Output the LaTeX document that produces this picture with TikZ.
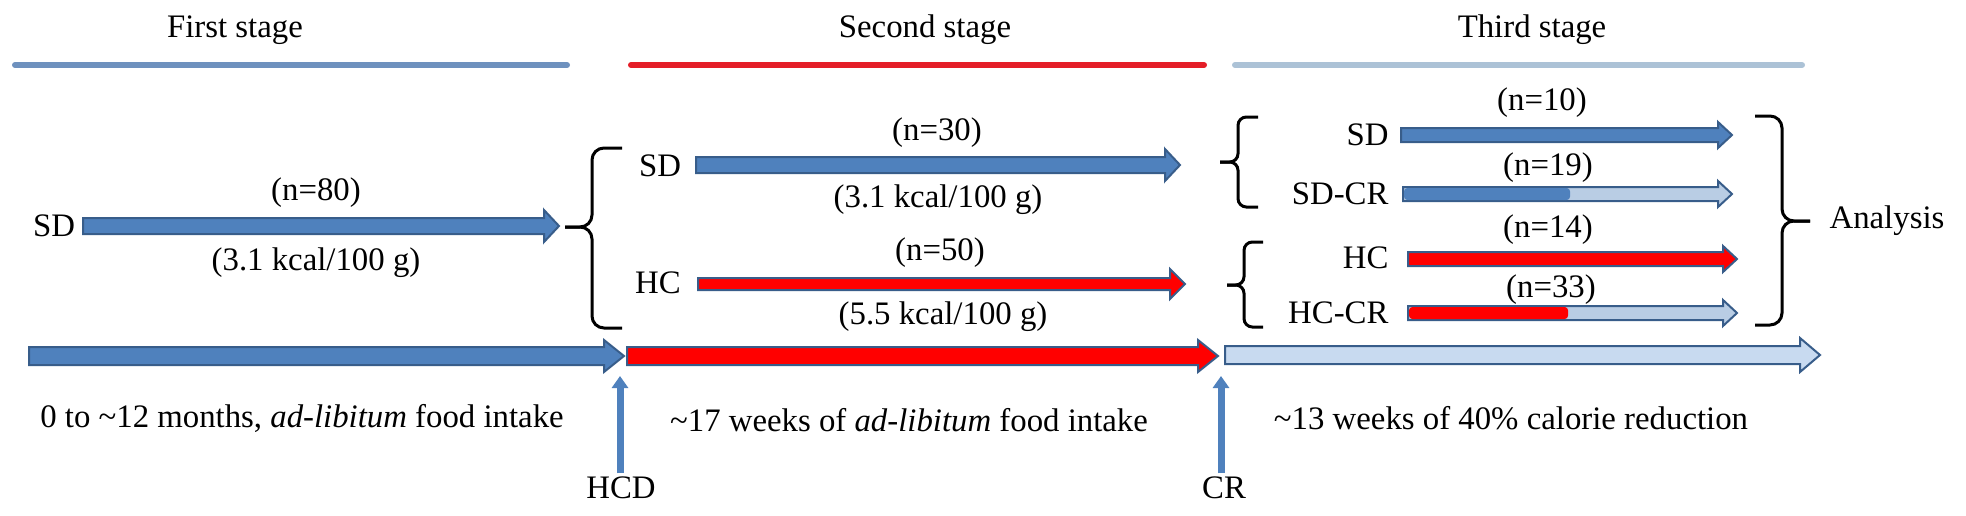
\documentclass[tikz,border=0pt]{standalone}
\usepackage{fontspec}
\setmainfont{Liberation Serif}
\usepackage{tikz}
\usetikzlibrary{arrows.meta}

\definecolor{sdblue}{RGB}{79,129,189}
\definecolor{edgeblue}{RGB}{56,93,138}
\definecolor{lightfill}{RGB}{200,218,240}
\definecolor{crfill}{RGB}{185,205,228}
\definecolor{stageone}{RGB}{110,145,190}
\definecolor{stagetwo}{RGB}{228,30,40}
\definecolor{stagethree}{RGB}{172,194,214}

% block arrow: start x, tip x, y, shaft half, head half, head length, fill
\newcommand{\blockarrow}[7]{%
  \filldraw[barrow, fill=#7] (#1,#3-#4) -- (#2-#6,#3-#4) -- (#2-#6,#3-#5) -- (#2,#3)
    -- (#2-#6,#3+#5) -- (#2-#6,#3+#4) -- (#1,#3+#4) -- cycle;}
% brace: end x, spine x, tip x, top y, tip y, bottom y, corner radius
\newcommand{\grpbrace}[7]{%
  \draw[brc, rounded corners=#7] (#1,#4) -- (#2,#4) -- (#2,#5) -- (#3,#5);
  \draw[brc, rounded corners=#7] (#1,#6) -- (#2,#6) -- (#2,#5) -- (#3,#5);}

\begin{document}
\begin{tikzpicture}[x=0.3mm, y=-0.3mm]
    \tikzstyle{barrow} = [draw=edgeblue, line width=0.6mm, line join=miter]
    \tikzstyle{brc} = [line width=0.9mm, line cap=butt]
    \tikzstyle{lbl} = [font=\fontsize{28}{33}\selectfont, inner sep=1mm]
    \tikzstyle{uparr} = [sdblue, line width=2.1mm, -{Triangle[width=4.8mm, length=3.6mm]}]
    \useasboundingbox (0,0) rectangle (1966,515);

    % stages
    \foreach \name/\tx/\xa/\xb/\col in {First/235/15/567/stageone, Second/925/631/1204/stagetwo, Third/1532/1235/1802/stagethree} {
        \node[lbl] (\name) at (\tx,30) {\name\ stage};
        \draw[\col, line width=1.8mm, line cap=round] (\xa,65) -- (\xb,65);
    }

    % first stage
    \node[lbl] (sd1) at (54,226) {SD};
    \blockarrow{83}{559}{226}{8}{16}{15}{sdblue}
    \node[lbl] (n80) at (316,193) {(n=80)};
    \node[lbl] (kcal1) at (316,263) {(3.1 kcal/100 g)};
    \grpbrace{622}{592}{565}{148}{227}{328}{3.6mm}

    % second stage
    \node[lbl] (sd2) at (660,166) {SD};
    \blockarrow{696}{1180}{165}{8}{16}{15}{sdblue}
    \node[lbl] (n30) at (937,133) {(n=30)};
    \node[lbl] (kcal2) at (938,200) {(3.1 kcal/100 g)};
    \node[lbl] (hc2) at (658,283) {HC};
    \blockarrow{698}{1185}{284}{6}{15}{15}{red}
    \node[lbl] (n50) at (940,253) {(n=50)};
    \node[lbl] (kcal3) at (943,317) {(5.5 kcal/100 g)};

    % third stage
    \grpbrace{1258}{1238}{1220}{117}{162}{207}{2.5mm}
    \grpbrace{1263}{1244}{1227}{242}{285}{327}{2.5mm}
    \node[lbl, anchor=east] (sd3) at (1392,135) {SD};
    \blockarrow{1401}{1732}{135}{7}{13}{14}{sdblue}
    \node[lbl] (n10) at (1542,103) {(n=10)};
    \node[lbl, anchor=east] (sdcr) at (1392,194) {SD-CR};
    \blockarrow{1403}{1732}{194}{7}{13}{14}{crfill}
    \fill[sdblue, rounded corners=1mm] (1404,188) rectangle (1570,200);
    \node[lbl] (n19) at (1548,168) {(n=19)};
    \node[lbl, anchor=east] (hc3) at (1392,258) {HC};
    \blockarrow{1408}{1737}{259}{7}{13}{14}{red}
    \node[lbl] (n14) at (1548,230) {(n=14)};
    \node[lbl, anchor=east] (hccr) at (1392,313) {HC-CR};
    \blockarrow{1408}{1737}{313}{7}{13}{14}{crfill}
    \fill[red, rounded corners=1mm] (1409,307) rectangle (1568,319);
    \node[lbl] (n33) at (1551,290) {(n=33)};
    \grpbrace{1755}{1782}{1810}{116}{221}{325}{3.6mm}
    \node[lbl, anchor=west] (analysis) at (1826,221) {Analysis};

    % time line
    \blockarrow{29}{624}{356}{9}{16}{20}{sdblue}
    \blockarrow{627}{1218}{356}{9}{16}{20}{red}
    \blockarrow{1225}{1820}{355}{9}{17}{20}{lightfill}
    \node[lbl] (t1) at (302,418) {0 to \textasciitilde12 months, \textit{ad-libitum} food intake};
    \node[lbl] (t2) at (909,420) {\textasciitilde17 weeks of \textit{ad-libitum} food intake};
    \node[lbl] (t3) at (1511,418) {\textasciitilde13 weeks of 40\% calorie reduction};

    \node[lbl] (hcd) at (621,488) {HCD};
    \node[lbl] (cr) at (1224,488) {CR};
    \coordinate (hcdtip) at (620,376);
    \coordinate (crtip) at (1221,376);
    \draw[uparr] (hcd.north -| hcdtip) -- (hcdtip);
    \draw[uparr] (cr.north -| crtip) -- (crtip);
\end{tikzpicture}
\end{document}
